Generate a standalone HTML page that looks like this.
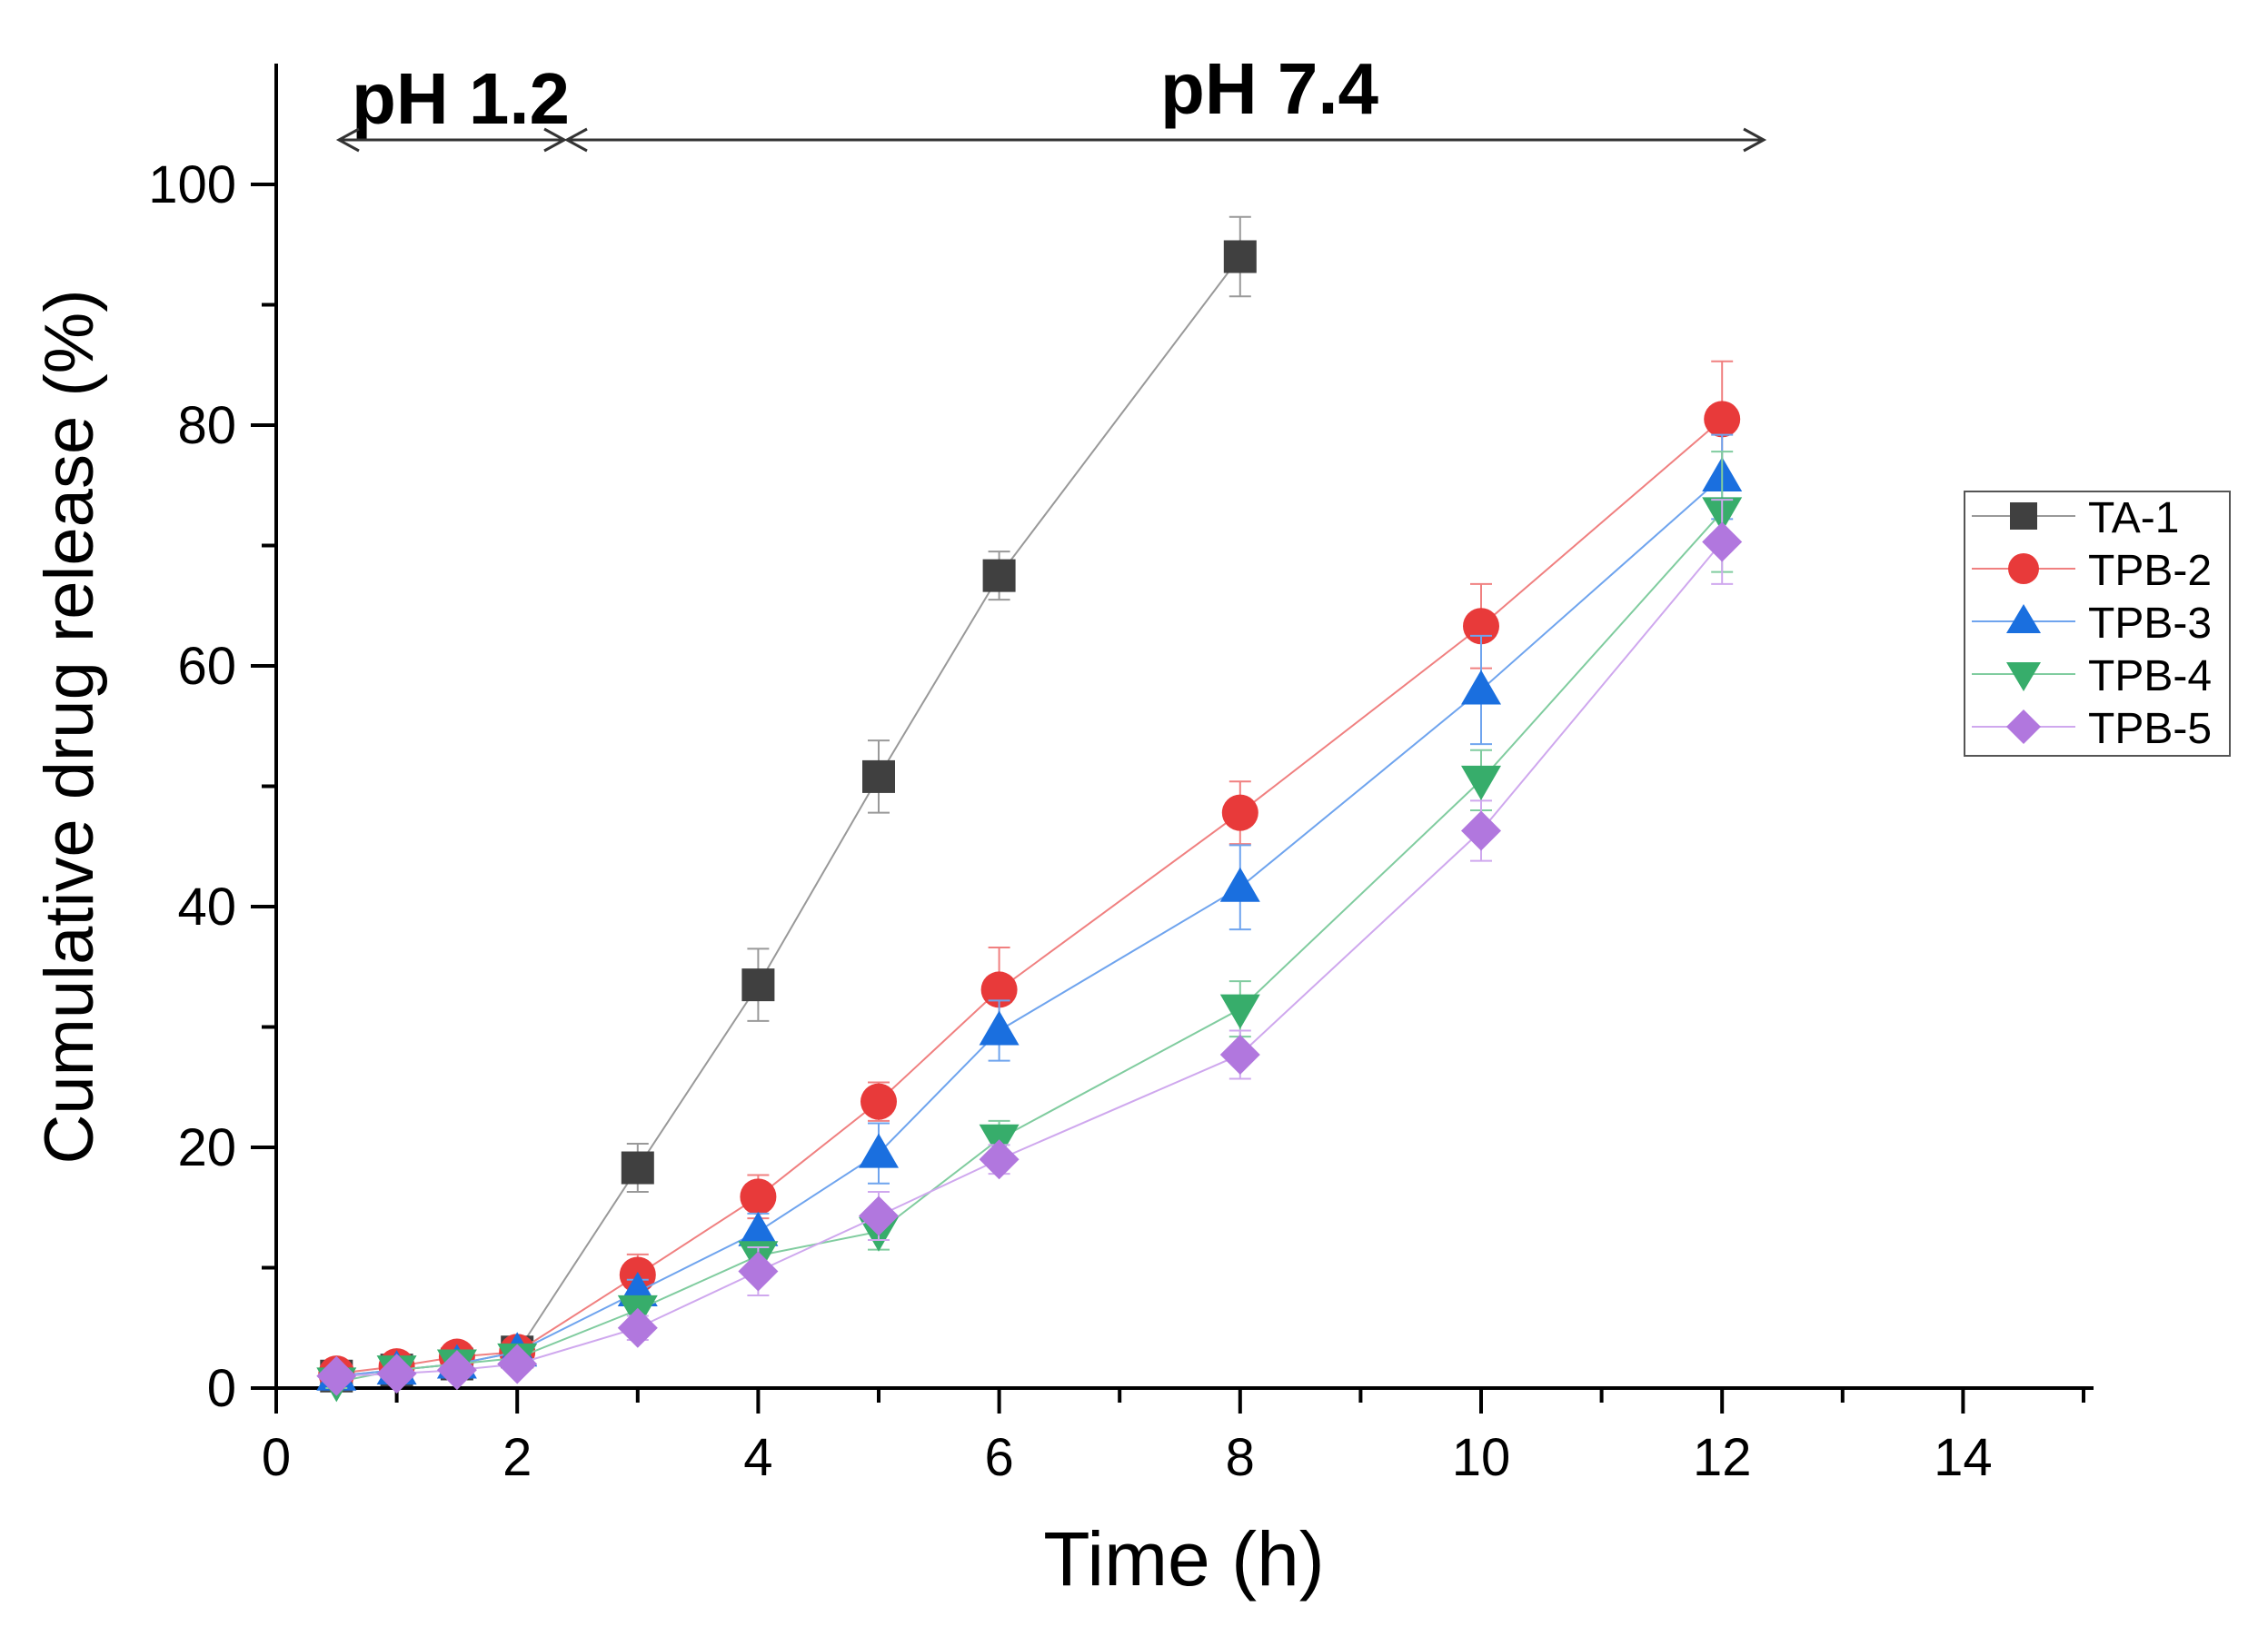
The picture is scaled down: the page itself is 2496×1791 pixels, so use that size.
<!DOCTYPE html>
<html><head><meta charset="utf-8"><style>
html,body{margin:0;padding:0;background:#fff}
svg{display:block}
text{font-family:"Liberation Sans",sans-serif}
</style></head><body>
<svg id="s" width="2496" height="1791" viewBox="0 0 2496 1791" xmlns="http://www.w3.org/2000/svg"></svg>
<script>
const S=document.getElementById('s');let h='';
const X=x=>304+132.6*x, Y=y=>1528-13.25*y;
h+=`<line x1="304" y1="70" x2="304" y2="1528" stroke="#000" stroke-width="4"/>`;
h+=`<line x1="302" y1="1528" x2="2304" y2="1528" stroke="#000" stroke-width="4"/>`;
for(let x=0;x<=15;x++){const L=x%2==0?28:16;h+=`<line x1="${X(x)}" y1="1528" x2="${X(x)}" y2="${1528+L}" stroke="#000" stroke-width="4"/>`;
 if(x%2==0&&x<=14)h+=`<text x="${X(x)}" y="1624" font-size="58" text-anchor="middle">${x}</text>`;}
for(let y=0;y<=100;y+=10){const L=y%20==0?28:16;h+=`<line x1="${304-L}" y1="${Y(y)}" x2="304" y2="${Y(y)}" stroke="#000" stroke-width="4"/>`;
 if(y%20==0)h+=`<text x="260" y="${Y(y)+20}" font-size="58" text-anchor="end">${y}</text>`;}
h+=`<text x="1303" y="1745" font-size="84" text-anchor="middle">Time (h)</text>`;
h+=`<text transform="translate(102,800) rotate(-90)" font-size="76" text-anchor="middle">Cumulative drug release (%)</text>`;
h+=`<text x="507" y="136" font-size="80" font-weight="bold" text-anchor="middle">pH 1.2</text>`;
h+=`<text x="1397" y="125" font-size="80" font-weight="bold" text-anchor="middle">pH 7.4</text>`;
const arr=(a,b,y)=>`<line x1="${a}" y1="${y}" x2="${b}" y2="${y}" stroke="#333" stroke-width="3"/><polyline points="${a+22},${y-12} ${a},${y} ${a+22},${y+12}" fill="none" stroke="#333" stroke-width="3"/><polyline points="${b-22},${y-12} ${b},${y} ${b-22},${y+12}" fill="none" stroke="#333" stroke-width="3"/>`;
h+=arr(373,621,154);h+=arr(624,1941,154);
const T=[0.5,1,1.5,2,3,4,5,6,8,10,12];
const ser=[
 ['TA-1','#404040','#999','sq',[1,1.5,2,3,18.3,33.5,50.8,67.5,94],[0.5,0.5,0.5,0.5,2,3,3,2,3.3]],
 ['TPB-2','#e83a3a','#f08080','ci',[1.2,1.8,2.6,3,9.4,15.9,23.8,33.1,47.8,63.3,80.5],[0.5,0.5,0.5,0.5,1.7,1.8,1.6,3.5,2.6,3.5,4.8]],
 ['TPB-3','#1a6fdf','#6fa4ee','tu',[1,1.5,2,3,8,13,19.5,29.7,41.6,58,75.7],[0.5,0.5,0.5,0.5,1,1.5,2.5,2.5,3.5,4.5,3.5]],
 ['TPB-4','#37ad6b','#80cc9f','td',[0.5,1.5,2,2.5,6.5,11,13,20.7,31.5,50.5,72.8],[0.5,0.5,0.5,0.5,1,1,1.5,1.5,2.3,2.5,5]],
 ['TPB-5','#b177de','#cfa8ee','di',[1,1.2,1.5,2,5,9.7,14.3,19,27.7,46.3,70.3],[0.5,0.5,0.5,0.5,1,2,2,1.2,2,2.5,3.5]]];
function mk(t,x,y,c,r){r=r||20;
 if(t=='sq')return `<rect x="${x-r+2}" y="${y-r+2}" width="${2*r-4}" height="${2*r-4}" fill="${c}"/>`;
 if(t=='ci')return `<circle cx="${x}" cy="${y}" r="${r}" fill="${c}"/>`;
 if(t=='tu')return `<polygon points="${x},${y-r-2} ${x+r+2},${y+r-4} ${x-r-2},${y+r-4}" fill="${c}"/>`;
 if(t=='td')return `<polygon points="${x},${y+r+2} ${x+r+2},${y-r+4} ${x-r-2},${y-r+4}" fill="${c}"/>`;
 return `<polygon points="${x},${y-r-2} ${x+r+2},${y} ${x},${y+r+2} ${x-r-2},${y}" fill="${c}"/>`;}
for(const [n,c,lc,t,d,e] of ser){
 h+=`<polyline fill="none" stroke="${lc}" stroke-width="2" points="${d.map((v,i)=>X(T[i])+','+Y(v)).join(' ')}"/>`;
 d.forEach((v,i)=>{const x=X(T[i]),a=Y(v+e[i]),b=Y(v-e[i]);
  h+=`<line x1="${x}" y1="${a}" x2="${x}" y2="${b}" stroke="${lc}" stroke-width="2"/><line x1="${x-12}" y1="${a}" x2="${x+12}" y2="${a}" stroke="${lc}" stroke-width="2"/><line x1="${x-12}" y1="${b}" x2="${x+12}" y2="${b}" stroke="${lc}" stroke-width="2"/>`;});
 d.forEach((v,i)=>{h+=mk(t,X(T[i]),Y(v),c);});
}
h+=`<rect x="2162" y="541" width="292" height="291" fill="#fff" stroke="#555" stroke-width="2"/>`;
ser.forEach(([n,c,lc,t],i)=>{const y=568+i*58;
 h+=`<line x1="2170" y1="${y}" x2="2284" y2="${y}" stroke="${lc}" stroke-width="2"/>`+mk(t,2227,y,c,17)+`<text x="2298" y="${y+18}" font-size="48">${n}</text>`;});
S.innerHTML=h;
</script>
</body></html>
